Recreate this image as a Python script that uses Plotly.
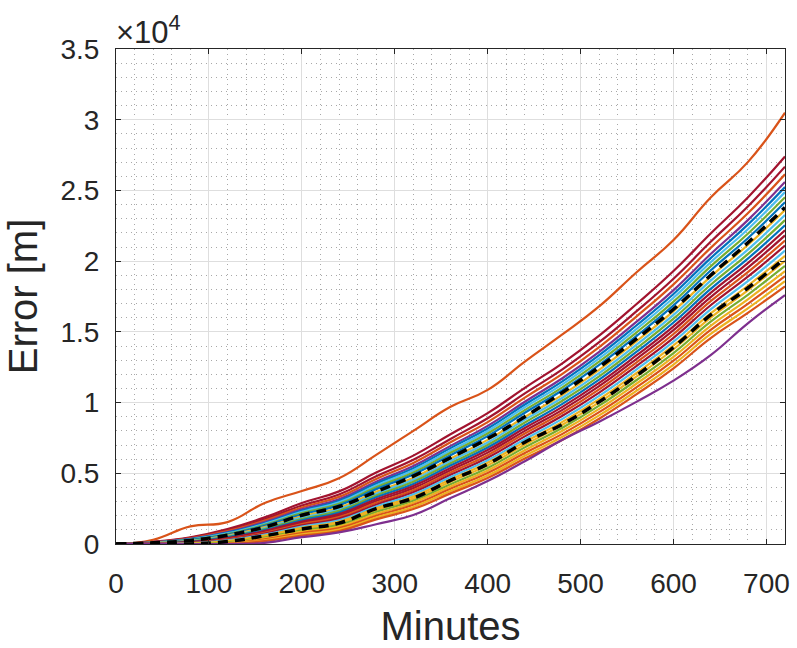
import plotly.graph_objects as go

minutes = [0, 40, 80, 120, 160, 200, 240, 280, 320, 360, 400, 440, 480, 520, 560, 600, 640, 680, 720]

# Individual Monte Carlo runs (error in metres)
run_top = [0, 300, 1250, 1550, 2900, 3750, 4650, 6300, 8000, 9700, 10900, 12900, 14800, 16800, 19200, 21500, 24500, 27000, 30500]
run_01 = [0, 160, 480, 1060, 1880, 2900, 3720, 5050, 6250, 7760, 9250, 11040, 12760, 14730, 16950, 19300, 21950, 24500, 27400]
run_02 = [0, 140, 440, 970, 1750, 2720, 3500, 4790, 5950, 7430, 8890, 10650, 12330, 14270, 16450, 18760, 21370, 23860, 26680]
run_03 = [0, 130, 400, 910, 1650, 2580, 3330, 4600, 5730, 7190, 8620, 10350, 12010, 13920, 16080, 18360, 20940, 23380, 26140]
run_04 = [0, 120, 370, 840, 1550, 2450, 3170, 4400, 5510, 6940, 8350, 10060, 11700, 13580, 15700, 17950, 20500, 22900, 25600]
run_05 = [0, 110, 340, 800, 1480, 2360, 3060, 4270, 5360, 6780, 8170, 9860, 11480, 13350, 15450, 17680, 20210, 22580, 25240]
run_06 = [0, 100, 320, 750, 1420, 2270, 2950, 4140, 5210, 6610, 7990, 9670, 11270, 13120, 15200, 17410, 19920, 22260, 24880]
run_07 = [0, 100, 290, 710, 1350, 2180, 2840, 4010, 5060, 6450, 7810, 9470, 11060, 12890, 14950, 17140, 19630, 21940, 24520]
run_08 = [0, 90, 270, 660, 1290, 2090, 2730, 3880, 4910, 6280, 7630, 9280, 10850, 12660, 14700, 16870, 19340, 21620, 24160]
run_09 = [0, 80, 230, 600, 1190, 1950, 2560, 3690, 4690, 6040, 7360, 8980, 10530, 12310, 14330, 16470, 18910, 21140, 23620]
run_10 = [0, 70, 210, 550, 1120, 1860, 2450, 3560, 4540, 5870, 7180, 8790, 10320, 12080, 14080, 16200, 18620, 20820, 23260]
run_11 = [0, 60, 190, 510, 1060, 1770, 2340, 3430, 4400, 5710, 7000, 8590, 10110, 11850, 13830, 15930, 18330, 20500, 22900]
run_12 = [0, 50, 160, 470, 990, 1680, 2230, 3300, 4250, 5550, 6820, 8390, 9890, 11620, 13580, 15660, 18040, 20180, 22540]
run_13 = [0, 40, 140, 420, 920, 1590, 2120, 3170, 4100, 5380, 6640, 8200, 9680, 11390, 13330, 15390, 17750, 19860, 22180]
run_14 = [0, 40, 110, 380, 860, 1500, 2010, 3040, 3950, 5220, 6460, 8000, 9470, 11160, 13080, 15120, 17460, 19540, 21820]
run_15 = [0, 30, 90, 330, 790, 1410, 1900, 2910, 3800, 5050, 6280, 7810, 9260, 10930, 12830, 14850, 17170, 19220, 21460]
run_16 = [0, 20, 70, 290, 730, 1320, 1790, 2780, 3660, 4890, 6100, 7610, 9050, 10700, 12580, 14580, 16880, 18900, 21100]
run_17 = [0, 10, 40, 250, 660, 1230, 1680, 2650, 3510, 4730, 5920, 7410, 8830, 10470, 12330, 14310, 16590, 18580, 20740]
run_18 = [0, 0, 20, 200, 590, 1140, 1570, 2520, 3360, 4560, 5740, 7220, 8620, 10240, 12080, 14040, 16300, 18260, 20380]
run_19 = [0, 0, 0, 160, 530, 1050, 1460, 2390, 3210, 4400, 5560, 7020, 8410, 10010, 11830, 13770, 16010, 17940, 20020]
run_20 = [0, 0, 0, 110, 460, 960, 1350, 2260, 3060, 4230, 5380, 6830, 8200, 9780, 11580, 13500, 15720, 17620, 19660]
run_21 = [0, 0, 0, 70, 400, 870, 1240, 2130, 2920, 4070, 5200, 6630, 7990, 9550, 11330, 13230, 15430, 17300, 19300]
run_22 = [0, 0, 0, 30, 330, 780, 1130, 2000, 2770, 3910, 5020, 6430, 7770, 9320, 11080, 12960, 15140, 16980, 18940]
run_23 = [0, 0, 0, 0, 260, 690, 1020, 1870, 2620, 3740, 4840, 6240, 7560, 9090, 10830, 12690, 14850, 16660, 18580]
run_24 = [0, 0, 0, 0, 200, 600, 910, 1740, 2470, 3580, 4660, 6040, 7350, 8860, 10580, 12420, 14560, 16340, 18220]
run_bottom = [0, 0, 0, 0, 80, 480, 820, 1400, 2050, 3250, 4450, 5850, 7350, 8650, 10050, 11550, 13350, 15600, 17600]

# Black dashed statistic curves
upper_dashed = [0, 80, 250, 620, 1200, 2030, 2650, 3700, 4800, 6100, 7450, 9000, 10700, 12500, 14500, 16600, 19000, 21300, 23800]
lower_dashed = [0, 0, 0, 180, 580, 1060, 1480, 2500, 3250, 4500, 5650, 7200, 8450, 10050, 11900, 13900, 16200, 18100, 20200]

# Axis ticks
x_ticks = [0, 100, 200, 300, 400, 500, 600, 700]
y_ticks = [0, 5000, 10000, 15000, 20000, 25000, 30000, 35000]
y_tick_labels = ["0", "0.5", "1", "1.5", "2", "2.5", "3", "3.5"]

BLUE, ORANGE, YELLOW, PURPLE = "#0072BD", "#D95319", "#EDB120", "#7E2F8E"
GREEN, CYAN, DARKRED = "#77AC30", "#4DBEEE", "#A2142F"

runs = [
    (run_top, ORANGE), (run_01, DARKRED), (run_02, DARKRED), (run_03, ORANGE),
    (run_04, PURPLE), (run_05, BLUE), (run_06, CYAN), (run_07, GREEN),
    (run_08, BLUE), (run_09, YELLOW), (run_10, CYAN), (run_11, GREEN),
    (run_12, BLUE), (run_13, DARKRED), (run_14, DARKRED), (run_15, ORANGE),
    (run_16, DARKRED), (run_17, CYAN), (run_18, YELLOW), (run_19, YELLOW),
    (run_20, GREEN), (run_21, YELLOW), (run_22, ORANGE), (run_23, YELLOW),
    (run_24, ORANGE), (run_bottom, PURPLE),
]

FONT = "Liberation Sans, Arial, sans-serif"
INK = "#262626"

fig = go.Figure()
for values, color in runs:
    fig.add_trace(go.Scatter(
        x=minutes, y=values, mode="lines",
        line=dict(color=color, width=2.2, shape="spline", smoothing=1.3),
        hoverinfo="skip", showlegend=False,
    ))
for values in (upper_dashed, lower_dashed):
    fig.add_trace(go.Scatter(
        x=minutes, y=values, mode="lines",
        line=dict(color="black", width=3.5, dash="10px,7px", shape="spline", smoothing=1.3),
        hoverinfo="skip", showlegend=False,
    ))

axis_common = dict(
    showline=True, linecolor=INK, linewidth=1, mirror="ticks",
    ticks="inside", ticklen=5, tickcolor=INK, tickwidth=1,
    showgrid=True, gridcolor="#dedede", gridwidth=1, zeroline=False,
    automargin=False,
    tickfont=dict(family=FONT, size=28, color=INK),
)

fig.update_xaxes(
    range=[0, 720], tickvals=x_ticks, ticklabelstandoff=14,
    minor=dict(dtick=20, showgrid=True, gridcolor="#a8a8a8", griddash="1px,4px", gridwidth=1, ticks=""),
    title=dict(text="Minutes", font=dict(family=FONT, size=40, color=INK), standoff=16),
    **axis_common,
)
fig.update_yaxes(
    range=[0, 35000], tickvals=y_ticks, ticktext=y_tick_labels, ticklabelstandoff=10,
    minor=dict(dtick=1000, showgrid=True, gridcolor="#a8a8a8", griddash="1px,4px", gridwidth=1, ticks=""),
    title=dict(text="Error [m]", font=dict(family=FONT, size=40, color=INK), standoff=10),
    **axis_common,
)

fig.add_annotation(
    xref="paper", yref="paper", x=0, y=1, xanchor="left", yanchor="bottom",
    text="×10<sup>4</sup>", showarrow=False, xshift=-2, yshift=-3,
    font=dict(family=FONT, size=31, color=INK),
)

fig.update_layout(
    width=797, height=648,
    margin=dict(l=116, r=12, t=49, b=104),
    paper_bgcolor="white", plot_bgcolor="white",
    showlegend=False,
)

fig.write_html("out.html")
